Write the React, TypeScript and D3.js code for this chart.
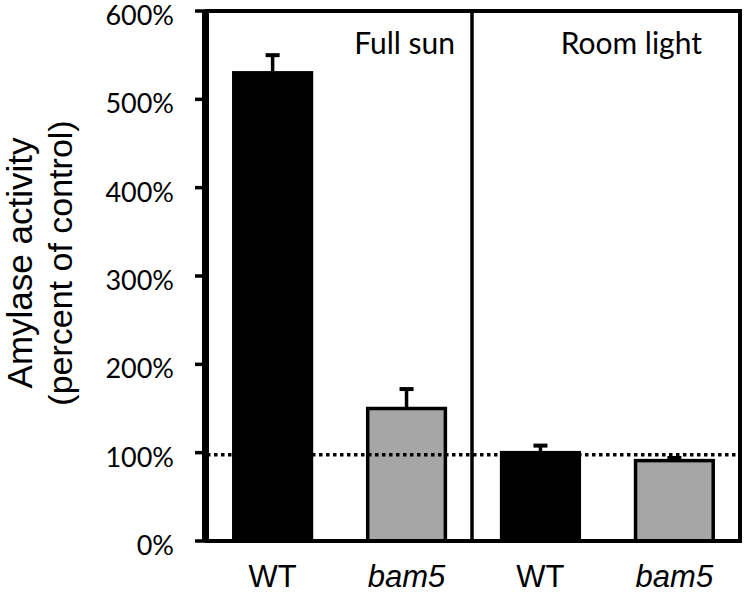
import React from "react";
import * as d3 from "d3";

const groups = ["Full sun", "Room light"];
const categories = ["WT", "bam5", "WT", "bam5"];
const values = [530, 150, 100, 91];
const errors = [20, 22, 8, 3];
const barColors = ["#000000", "#a6a6a6", "#000000", "#a6a6a6"];
const yTicks = [0, 100, 200, 300, 400, 500, 600];
const control = 100;

const W = 747;
const H = 594;
const left = 207;
const right = 740;
const top = 11;
const bottom = 541;
const divider = 472;

export default function App() {
  const y = d3.scaleLinear().domain([0, 600]).range([bottom, top]);
  const x = d3
    .scaleBand<number>()
    .domain(d3.range(categories.length))
    .range([left, right])
    .paddingInner(0.42)
    .paddingOuter(0.2);
  const bw = x.bandwidth();

  return (
    <svg width={W} height={H} style={{ position: "absolute", left: 0, top: 0 }}>
      {/* y axis */}
      <line x1={204} x2={204} y1={top - 1} y2={bottom} stroke="#000" strokeWidth={4} />
      {yTicks.map((t) => (
        <g key={t}>
          <line x1={195} x2={205} y1={y(t)} y2={y(t)} stroke="#000" strokeWidth={3.5} />
          <text
            x={174}
            y={y(t) + 14}
            textAnchor="end"
            fontFamily="Lato, 'Open Sans', sans-serif"
            fontSize={27}
          >
            {t}%
          </text>
        </g>
      ))}
      <g transform="translate(0,263) rotate(-90)" fontFamily="'Liberation Sans', Arial, sans-serif">
        <text x={0} y={32} textAnchor="middle" fontSize={35}>
          Amylase activity
        </text>
        <text x={0} y={72} textAnchor="middle" fontSize={34}>
          (percent of control)
        </text>
      </g>

      {/* bars */}
      {values.map((v, i) => {
        const bx = x(i)!;
        const cx = bx + bw / 2;
        return (
          <g key={i}>
            <line x1={cx} x2={cx} y1={y(v)} y2={y(v + errors[i])} stroke="#000" strokeWidth={3.5} />
            <line x1={cx - 7} x2={cx + 7} y1={y(v + errors[i])} y2={y(v + errors[i])} stroke="#000" strokeWidth={4} />
            {i % 2 === 1 && (
              <>
                <line x1={cx} x2={cx} y1={y(v)} y2={y(v - errors[i])} stroke="#000" strokeWidth={3.5} />
                <line x1={cx - 7} x2={cx + 7} y1={y(v - errors[i])} y2={y(v - errors[i])} stroke="#000" strokeWidth={4} />
              </>
            )}
            <rect
              x={bx}
              y={y(v)}
              width={bw}
              height={bottom - y(v)}
              fill={barColors[i]}
              stroke="#000"
              strokeWidth={3.5}
            />
            <text
              x={cx}
              y={587}
              textAnchor="middle"
              fontFamily="'Liberation Sans', Arial, sans-serif"
              fontSize={31}
              fontStyle={categories[i] === "bam5" ? "italic" : "normal"}
            >
              {categories[i]}
            </text>
          </g>
        );
      })}

      {/* control line */}
      <line
        x1={left}
        x2={right}
        y1={y(control) + 2}
        y2={y(control) + 2}
        stroke="#000"
        strokeWidth={3.5}
        strokeDasharray="3.5,3.5"
      />

      {/* frame */}
      <rect x={left} y={top} width={right - left} height={bottom - top} fill="none" stroke="#000" strokeWidth={4} />
      <line x1={divider} x2={divider} y1={top} y2={bottom} stroke="#000" strokeWidth={3.5} />
      {groups.map((g, gi) => (
        <text
          key={g}
          x={gi === 0 ? 455 : 702}
          y={54}
          textAnchor="end"
          fontFamily="Lato, 'Open Sans', sans-serif"
          fontSize={30}
        >
          {g}
        </text>
      ))}
    </svg>
  );
}
